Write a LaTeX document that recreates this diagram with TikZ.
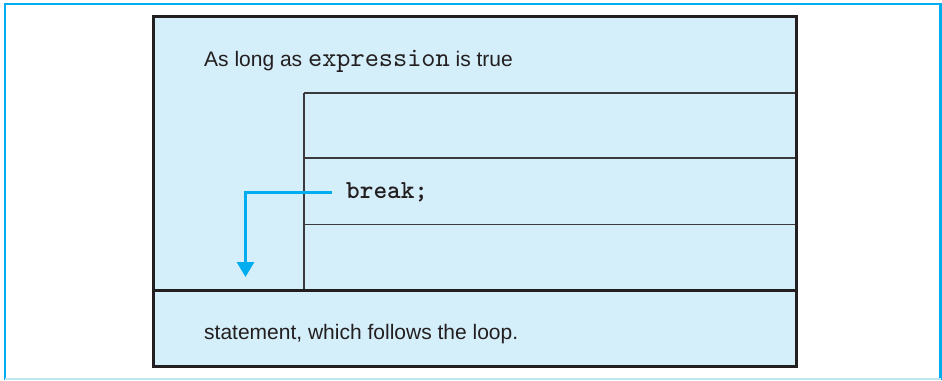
\documentclass[tikz,border=0pt]{standalone}
\usepackage{fontspec}
\setmainfont{Liberation Sans}
\newfontfamily\codefont{lmmono10-regular.otf}[BoldFont=lmmonolt10-bold.otf]
\usetikzlibrary{arrows.meta}
\definecolor{boxfill}{HTML}{D4EEFA}
\definecolor{cyanline}{HTML}{00AEEF}
\definecolor{lightcyan}{HTML}{BDE6F2}
\definecolor{darkline}{HTML}{231F20}
\definecolor{innergray}{HTML}{3A3A3C}
\tikzset{
  frameline/.style={cyanline, line width=2.2bp},
  outerbox/.style={darkline, line width=3bp},
  innerline/.style={innergray, line width=1.5bp},
  label/.style={anchor=base west, inner sep=0pt, text=darkline, font=\fontsize{21bp}{25bp}\selectfont},
  codelabel/.style={anchor=base west, inner sep=0pt, text=darkline, font=\fontsize{26bp}{30bp}\selectfont\codefont\bfseries},
  breakarrow/.style={cyanline, line width=3bp, -{Triangle[width=17bp,length=15bp]}}
}
\begin{document}
\begin{tikzpicture}[x=1bp,y=-1bp]
\useasboundingbox (0,0) rectangle (942,380);
% outer frame
\draw[frameline] (5,380) -- (5,4) -- (940.5,4) -- (940.5,380);
\draw[lightcyan, line width=2bp] (5,379) -- (940.5,379);
% main box
\fill[boxfill] (153,16) rectangle (796,366);
\draw[innerline] (304,93) -- (304,290);
\draw[innerline] (304,93) -- (796,93);
\draw[innerline] (304,158) -- (796,158);
\draw[innerline] (304,224.5) -- (796,224.5);
\draw[outerbox] (153,290) -- (796,290);
\draw[outerbox] (153,16) rectangle (796,366);
% texts
\node[label] (cond) at (204,66.5) {As long as {\fontsize{27bp}{31bp}\selectfont\codefont expression} is true};
\node[codelabel] (brk) at (346,198.5) {break;};
\node[label] (after) at (204,339) {statement, which follows the loop.};
% break arrow
\coordinate (arrstart) at (332,192);
\coordinate (arrend) at (245.5,277);
\draw[breakarrow] (arrstart) -| (arrend);
\end{tikzpicture}
\end{document}
